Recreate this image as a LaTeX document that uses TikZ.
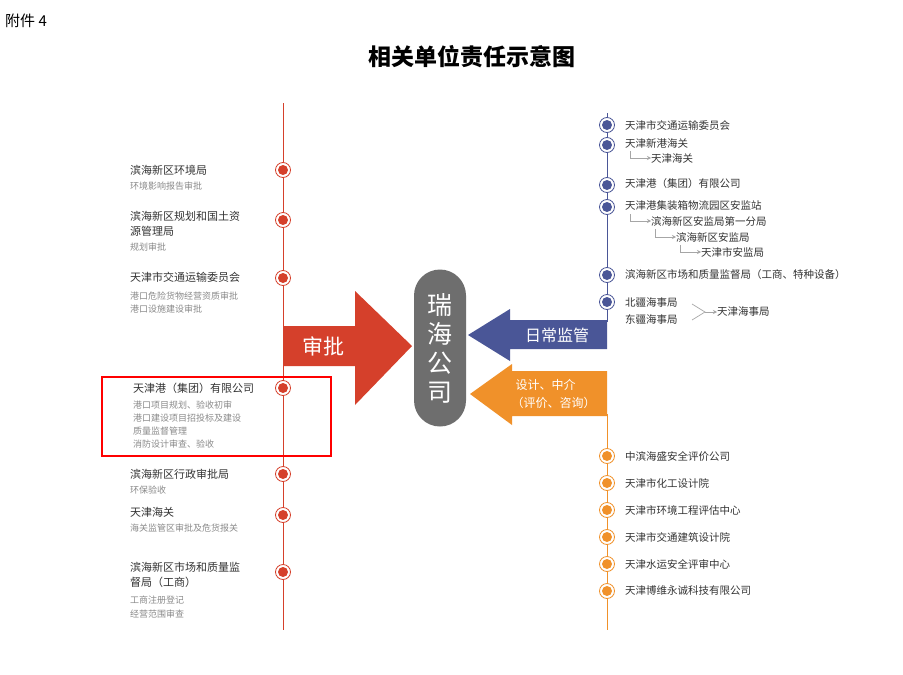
\documentclass[tikz,border=0pt]{standalone}
\usepackage{fontspec}
\setmainfont{Noto Sans CJK SC}
\usetikzlibrary{arrows.meta}
\definecolor{cred}{HTML}{D5402B}
\definecolor{cblue}{HTML}{4A5697}
\definecolor{corange}{HTML}{F0912A}
\definecolor{cgray}{HTML}{6E6E6E}
\definecolor{ctext}{HTML}{333333}
\definecolor{csub}{HTML}{8A8A8A}
\begin{document}
\begin{tikzpicture}[x=1pt,y=-1pt,
  ttl/.style={anchor=west,inner sep=0,font=\fontsize{11}{13}\selectfont,text=ctext},
  sub/.style={anchor=west,inner sep=0,font=\fontsize{9}{11}\selectfont,text=csub},
  rt/.style={anchor=west,inner sep=0,font=\fontsize{10.5}{12}\selectfont,text=ctext},
  dotr/.style={circle,draw=cred,fill=white,line width=0.8,minimum size=15,inner sep=0,
     path picture={\fill[cred] (path picture bounding box.center) circle (5);}},
  dotb/.style={dotr,draw=cblue,path picture={\fill[cblue] (path picture bounding box.center) circle (5);}},
  doto/.style={dotr,draw=corange,path picture={\fill[corange] (path picture bounding box.center) circle (5);}},
  sa/.style={draw=gray!70,line width=0.7,-{Stealth[length=4,width=4]}}]
\useasboundingbox (0,0) rectangle (903,675);
\fill[white] (0,0) rectangle (903,675);
\node[anchor=west,inner sep=0,font=\fontsize{15}{17}\selectfont] (fj) at (5,21) {附件 4};
\node[font=\bfseries\fontsize{23}{26}\selectfont] (title) at (472,57) {相关单位责任示意图};
% left line
\coordinate (lt) at (283,103); \coordinate (lb) at (283,630);
\draw[cred,line width=1] (lt) -- (lb);
% red arrow
\fill[cred] (283,326) -- (355,326) -- (355,291) -- (412,346) -- (355,405) -- (355,366) -- (283,366) -- cycle;
\node[text=white,font=\fontsize{21}{24}\selectfont] (sp) at (323,346) {审批};
% left dots
\foreach \y/\n in {170/a,220/b,278/c,388/d,474/e,515/f,572/g} \node[dotr] (L\n) at (283,\y) {};
\node[ttl] (t1) at (130,170) {滨海新区环境局};
\node[sub] (s1) at (130,186) {环境影响报告审批};
\node[ttl] (t2) at (130,216) {滨海新区规划和国土资};
\node[ttl] (t2b) at (130,231) {源管理局};
\node[sub] (s2) at (130,247) {规划审批};
\node[ttl] (t3) at (130,277) {天津市交通运输委员会};
\node[sub] (s3) at (130,296) {港口危险货物经营资质审批};
\node[sub] (s3b) at (130,309) {港口设施建设审批};
\node[ttl] (t4) at (133,388) {天津港（集团）有限公司};
\node[sub] (s4) at (133,405) {港口项目规划、验收初审};
\node[sub] (s4b) at (133,418) {港口建设项目招投标及建设};
\node[sub] (s4c) at (133,431) {质量监督管理};
\node[sub] (s4d) at (133,444) {消防设计审查、验收};
\node[ttl] (t5) at (130,474) {滨海新区行政审批局};
\node[sub] (s5) at (130,490) {环保验收};
\node[ttl] (t6) at (130,512) {天津海关};
\node[sub] (s6) at (130,528) {海关监管区审批及危货报关};
\node[ttl] (t7) at (130,567) {滨海新区市场和质量监};
\node[ttl] (t7b) at (130,582) {督局（工商）};
\node[sub] (s7) at (130,600) {工商注册登记};
\node[sub] (s7b) at (130,614) {经营范围审查};
\draw[red,line width=2] (102,377) rectangle (331,456);
% pill
\node[fill=cgray,rounded corners=26,minimum width=52,minimum height=157,inner sep=0] (rh) at (440,348) {};
\node[text=white,font=\fontsize{25}{29}\selectfont,align=center] (rht) at (440,348) {瑞\\海\\公\\司};
% right lines
\draw[cblue,line width=1] (607,113) -- (607,322);
\draw[corange,line width=1] (607,414) -- (607,630);
% blue arrow
\fill[cblue] (607,320) -- (510,320) -- (510,309) -- (468,335) -- (510,361) -- (510,349) -- (607,349) -- cycle;
\node[text=white,font=\fontsize{16}{18}\selectfont] (rc) at (557,335) {日常监管};
% orange arrow
\fill[corange] (607,371) -- (512,371) -- (512,364) -- (470,394) -- (512,425) -- (512,416) -- (607,416) -- cycle;
\node[text=white,font=\fontsize{12}{14}\selectfont,anchor=west] (oa) at (512,385) {设计、中介};
\node[text=white,font=\fontsize{12}{14}\selectfont,anchor=west] (ob) at (508,403) {（评价、咨询）};
% blue dots & text
\foreach \y/\n in {125/a,145/b,185/c,207/d,275/e,302/f} \node[dotb] (B\n) at (607,\y) {};
\node[rt] (r1) at (625,125) {天津市交通运输委员会};
\node[rt] (r2) at (625,143) {天津新港海关};
\node[rt] (r2b) at (651,158) {天津海关};
\coordinate (c2) at (630,151);
\draw[sa] (c2) |- (r2b.west);
\node[rt] (r3) at (625,184) {天津港（集团）有限公司};
\node[rt] (r4) at (625,206) {天津港集装箱物流园区安监站};
\node[rt] (r4b) at (651,221) {滨海新区安监局第一分局};
\node[rt] (r4c) at (676,237) {滨海新区安监局};
\node[rt] (r4d) at (701,252) {天津市安监局};
\coordinate (c4) at (630,214); \coordinate (c4b) at (655,229); \coordinate (c4c) at (680,245);
\draw[sa] (c4) |- (r4b.west);
\draw[sa] (c4b) |- (r4c.west);
\draw[sa] (c4c) |- (r4d.west);
\node[rt] (r5) at (625,275) {滨海新区市场和质量监督局（工商、特种设备）};
\node[rt] (r6) at (625,303) {北疆海事局};
\node[rt] (r6b) at (625,319) {东疆海事局};
\node[rt] (r6c) at (717,312) {天津海事局};
\coordinate (m1) at (692,304); \coordinate (m2) at (705,312); \coordinate (m3) at (692,320);
\draw[gray!70,line width=0.7] (m1) -- (m2) -- (m3);
\draw[sa] (m2) -- (r6c.west);
% orange dots & text
\foreach \y/\n/\t in {456/a/中滨海盛安全评价公司,483/b/天津市化工设计院,510/c/天津市环境工程评估中心,537/d/天津市交通建筑设计院,564/e/天津水运安全评审中心,591/f/天津博维永诚科技有限公司}
 { \node[doto] (O\n) at (607,\y) {}; \node[rt] (ot\n) at (625,\y) {\t}; }
\end{tikzpicture}
\end{document}
